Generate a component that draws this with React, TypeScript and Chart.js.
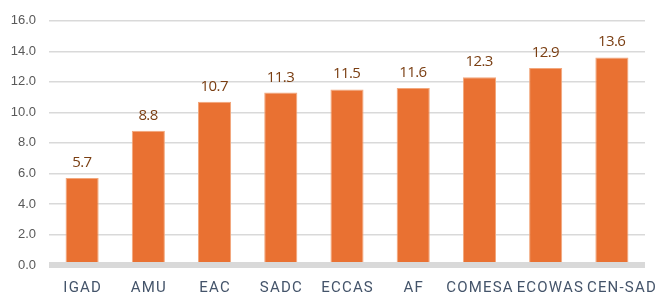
import React, { useEffect, useRef } from "react";
import { Chart, registerables } from "chart.js";

Chart.register(...registerables);

const categories = ["IGAD", "AMU", "EAC", "SADC", "ECCAS", "AF", "COMESA", "ECOWAS", "CEN-SAD"];
const values = [5.7, 8.8, 10.7, 11.3, 11.5, 11.6, 12.3, 12.9, 13.6];
const yMin = 0;
const yMax = 16;
const yStep = 2;

const zeroBandPlugin = {
  id: "zeroBand",
  afterDatasetsDraw(chart: any) {
    const { ctx, chartArea, scales } = chart;
    const y0 = scales.y.getPixelForValue(0);
    ctx.save();
    ctx.fillStyle = "#d9d9d9";
    ctx.fillRect(chartArea.left, y0 - 3, chartArea.right - chartArea.left, 6);
    ctx.restore();
  },
};

const labelPlugin = {
  id: "labels",
  afterDatasetsDraw(chart: any) {
    const { ctx } = chart;
    const meta = chart.getDatasetMeta(0);
    const y0 = chart.scales.y.getPixelForValue(0);
    ctx.save();
    ctx.textAlign = "left";
    ctx.textBaseline = "alphabetic";
    // value labels
    ctx.fillStyle = "#7a3e12";
    ctx.font = "15px 'Open Sans'";
    ctx.letterSpacing = "-0.6px";
    meta.data.forEach((bar: any, i: number) => {
      const t = (chart.data.datasets[0].data[i] as number).toFixed(1);
      const w = ctx.measureText(t).width + 0.6;
      ctx.fillText(t, bar.x - w / 2, bar.y - 11);
    });
    // category labels, avoiding overlap
    ctx.fillStyle = "#44546a";
    ctx.font = "15px Roboto";
    ctx.letterSpacing = "1.2px";
    let prevRight = -Infinity;
    meta.data.forEach((bar: any, i: number) => {
      const t = String(chart.data.labels[i]);
      const w = ctx.measureText(t).width - 1.2;
      let left = bar.x - w / 2;
      if (left < prevRight + 4) left = prevRight + 4;
      ctx.fillText(t, left, y0 + 27);
      prevRight = left + w;
    });
    ctx.letterSpacing = "0px";
    ctx.restore();
  },
};

export default function App() {
  const ref = useRef<HTMLCanvasElement>(null);
  useEffect(() => {
    document.body.style.margin = "0";
    const chart = new Chart(ref.current!, {
      type: "bar",
      data: {
        labels: categories,
        datasets: [
          {
            data: values,
            backgroundColor: "#e97132",
            borderColor: "#f2a77c",
            borderWidth: 1,
            barPercentage: 0.5,
            categoryPercentage: 1,
          },
        ],
      },
      options: {
        animation: false,
        responsive: false,
        maintainAspectRatio: false,
        layout: { padding: { left: 0, right: 15, top: 15, bottom: 0 } },
        plugins: { legend: { display: false }, tooltip: { enabled: false } },
        scales: {
          x: {
            afterFit: (s: any) => {
              s.height = 29;
            },
            grid: { display: false, drawTicks: false },
            border: { display: false },
            ticks: { display: false },
          },
          y: {
            min: yMin,
            max: yMax,
            afterFit: (s: any) => {
              s.width = 49;
            },
            grid: {
              color: (c: any) => (c.tick && c.tick.value === 0 ? "rgba(0,0,0,0)" : "#d9d9d9"),
              lineWidth: 1.5,
              drawTicks: false,
            },
            border: { display: false },
            ticks: {
              stepSize: yStep,
              color: "#595959",
              font: { family: "Liberation Sans", size: 13 },
              padding: 13,
              callback: (v: any) => Number(v).toFixed(1),
            },
          },
        },
      },
      plugins: [zeroBandPlugin, labelPlugin],
    });
    return () => chart.destroy();
  }, []);
  return (
    <div style={{ width: 660, height: 294 }}>
      <canvas ref={ref} width={660} height={294} />
    </div>
  );
}
